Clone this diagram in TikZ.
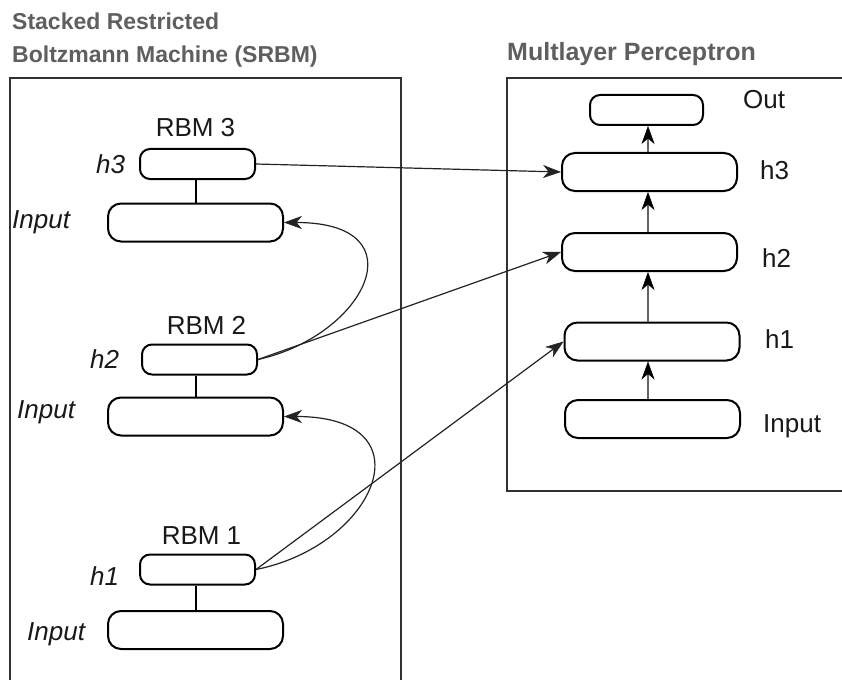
\documentclass[tikz,border=0pt]{standalone}
\usepackage{fontspec}
\setmainfont{Liberation Sans}
\usetikzlibrary{arrows.meta}
\definecolor{titlegray}{RGB}{95,95,95}
\definecolor{framegray}{RGB}{50,50,50}
\definecolor{linegray}{RGB}{35,35,35}
\definecolor{upgray}{RGB}{100,100,100}
\tikzset{
  myhead/.tip={Stealth[length=18pt,width=13pt,inset=5.5pt,line width=0.5pt]},
  myheadk/.tip={Stealth[length=18pt,width=13pt,inset=5.5pt,line width=0.5pt,color=black]}
}
\begin{document}
\begin{tikzpicture}[x=1pt,y=-1pt,
  bigbox/.style={draw=black, line width=2pt, rounded corners=13pt, minimum width=175pt, minimum height=38pt, inner sep=0pt},
  smallbox/.style={draw=black, line width=2pt, rounded corners=10pt, minimum width=115pt, minimum height=30pt, inner sep=0pt},
  titletext/.style={font=\fontsize{23}{28}\selectfont\bfseries, text=titlegray, inner sep=0pt, anchor=base west},
  lbl/.style={font=\fontsize{26}{30}\selectfont, text=black!90, inner sep=0pt},
  ilbl/.style={font=\fontsize{26}{30}\selectfont\itshape, text=black!90, inner sep=0pt, anchor=base west},
  frame/.style={draw=framegray, line width=1.4pt},
  conn/.style={draw=linegray, line width=1.2pt, arrows={-myhead}},
  uparrow/.style={draw=upgray, line width=1.6pt, arrows={-myheadk}},
  tie/.style={draw=black, line width=2pt}
]
\useasboundingbox (0,0) rectangle (842,679);
\fill[white] (0,0) rectangle (842,679);

% frames
\draw[frame] (10,700) -- (10,78) -- (401,78) -- (401,700);
\draw[frame] (860,491) -- (507,491) -- (507,78) -- (860,78);

% titles
\node[titletext] (t1) at (12,30) {Stacked Restricted};
\node[titletext] (t2) at (12,63) {Boltzmann Machine (SRBM)};
\node[titletext, font=\fontsize{25}{30}\selectfont\bfseries] (t3) at (507,61) {Multlayer Perceptron};

% SRBM, RBM 3
\node[smallbox] (h3) at (197.5,164) {};
\node[bigbox] (in3) at (195.5,222.5) {};
\node[lbl, anchor=base] (rbm3) at (195.5,137) {RBM 3};
\node[ilbl] (lh3) at (96,174) {h3};
\node[ilbl] (lin3) at (12,228) {Input};
\draw[tie] (h3.south -| in3.north) -- (in3.north);

% RBM 2
\node[smallbox] (h2) at (199.5,359.5) {};
\node[bigbox] (in2) at (195.5,416.5) {};
\node[lbl, anchor=base] (rbm2) at (206.5,334) {RBM 2};
\node[ilbl] (lh2) at (90,368) {h2};
\node[ilbl] (lin2) at (17,418) {Input};
\draw[tie] (h2.south -| in2.north) -- (in2.north);

% RBM 1
\node[smallbox] (h1) at (197.5,569.5) {};
\node[bigbox] (in1) at (195.5,630) {};
\node[lbl, anchor=base] (rbm1) at (201.5,544) {RBM 1};
\node[ilbl] (lh1) at (90,585) {h1};
\node[ilbl] (lin1) at (27,640) {Input};
\draw[tie] (h1.south -| in1.north) -- (in1.north);

% MLP
\node[smallbox, minimum width=113pt] (mout) at (646.5,110) {};
\node[bigbox] (mh3) at (649.5,172) {};
\node[bigbox] (mh2) at (649.5,252) {};
\node[bigbox] (mh1) at (652,341.5) {};
\node[bigbox] (min) at (652.5,419) {};
\node[lbl, anchor=base west] (lout) at (743,109) {Out};
\node[lbl, anchor=base west] (lmh3) at (760,179) {h3};
\node[lbl, anchor=base west] (lmh2) at (762,267) {h2};
\node[lbl, anchor=base west] (lmh1) at (765,348) {h1};
\node[lbl, anchor=base west] (lmin) at (763,432) {Input};

\coordinate (ax) at (648,0);
\draw[uparrow] (min.north -| ax) -- (mh1.south -| ax);
\draw[uparrow] (mh1.north -| ax) -- (mh2.south -| ax);
\draw[uparrow] (mh2.north -| ax) -- (mh3.south -| ax);
\draw[uparrow] (mh3.north -| ax) -- (mout.south -| ax);

% connectors
\draw[conn] (h3.east) -- (mh3.west);
\draw[conn] (h2.east) -- (mh2.west);
\draw[conn] (h1.east) -- (mh1.west);
\draw[conn] (h2.east) .. controls +(108,-24) and +(137,0) .. (in3.east);
\draw[conn] (h1.east) .. controls +(120,-24) and +(147,0) .. (in2.east);
\end{tikzpicture}
\end{document}
